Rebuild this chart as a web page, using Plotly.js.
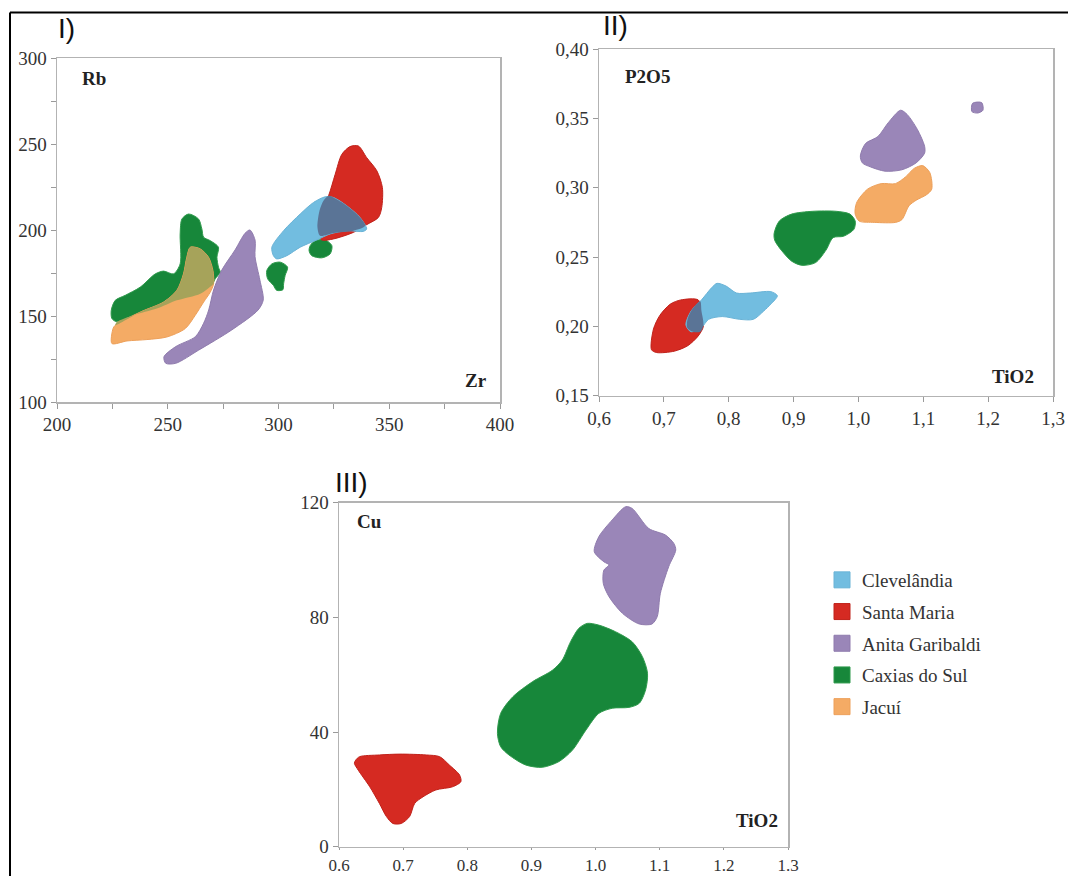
<!DOCTYPE html>
<html><head><meta charset="utf-8">
<script src="https://cdn.plot.ly/plotly-3.0.1.min.js"></script>
<style>html,body{margin:0;padding:0;background:#fff}#chart{width:1068px;height:876px}</style>
</head><body><div id="chart"></div>
<script>
// ================= DATA =================
const groupNames = ['Clevelândia', 'Santa Maria', 'Anita Garibaldi', 'Caxias do Sul', 'Jacuí'];

// ---- Panel I : Zr (x) vs Rb (y) ----
const p1CleX = [297.7, 297.0, 302.3, 309.8, 315.8, 321.1, 324.8, 330.8, 336.8, 339.8, 338.3, 330.8, 323.3, 317.3, 309.8, 303.8, 299.2];
const p1CleY = [185.1, 190.0, 199.6, 209.3, 216.0, 219.3, 218.9, 214.1, 207.3, 200.6, 199.2, 199.6, 197.7, 194.2, 190.0, 185.1, 183.2];
const p1SmX = [322.6, 325.6, 328.6, 332.3, 336.1, 339.8, 344.4, 346.9, 346.6, 345.1, 339.8, 333.8, 324.8, 319.5, 318.0, 318.8];
const p1SmY = [219.9, 232.4, 244.0, 248.5, 248.8, 242.1, 234.4, 224.7, 213.1, 207.3, 203.1, 198.6, 194.8, 194.2, 197.7, 209.3];
const p1CleSmX = [322.6, 324.8, 330.8, 336.8, 339.1, 333.8, 324.8, 318.8, 317.6, 318.5, 320.3];
const p1CleSmY = [219.9, 218.9, 214.1, 207.3, 202.5, 199.6, 198.3, 196.7, 201.5, 211.2, 217.0];
const p1AgX = [287.1, 289.4, 289.4, 291.6, 293.1, 290.8, 278.9, 264.0, 253.6, 249.1, 248.3, 253.6, 262.5, 266.2, 268.5, 270.7, 274.4, 280.4, 284.9];
const p1AgY = [200.0, 194.2, 184.5, 170.9, 159.3, 153.5, 141.9, 130.2, 122.5, 122.5, 126.3, 132.2, 138.0, 145.8, 153.5, 165.1, 176.7, 188.4, 198.1];
const p1CsX = [224.8, 224.5, 226.3, 230.8, 237.6, 244.4, 248.1, 252.6, 255.6, 255.6, 256.4, 259.4, 263.9, 265.4, 266.2, 269.2, 272.9, 272.2, 272.9, 273.7, 271.4, 269.9, 264.7, 254.1, 245.1, 234.6, 227.1];
const p1CsY = [148.5, 153.3, 159.1, 162.0, 166.8, 174.5, 176.1, 174.5, 180.3, 197.7, 206.4, 209.3, 206.4, 200.6, 195.8, 193.8, 190.0, 184.2, 178.4, 175.5, 171.6, 167.8, 163.0, 159.1, 154.3, 150.5, 146.6];
const p1CsB1X = [314.3, 316.5, 321.1, 324.1, 323.3, 319.5, 315.0, 313.8];
const p1CsB1Y = [190.9, 193.8, 194.2, 190.9, 186.1, 183.8, 185.1, 188.0];
const p1CsB2X = [294.7, 297.0, 300.8, 304.1, 303.0, 302.3, 302.0, 299.2, 297.7, 295.1];
const p1CsB2Y = [176.4, 180.3, 181.3, 178.4, 173.6, 168.7, 165.3, 164.9, 167.8, 171.6];
const p1JaX = [226.3, 237.6, 248.1, 254.1, 257.1, 258.6, 260.2, 264.7, 268.4, 270.4, 270.7, 269.2, 266.2, 262.4, 257.9, 249.6, 240.6, 231.6, 224.8, 225.3];
const p1JaY = [144.6, 152.3, 158.1, 164.9, 174.5, 184.2, 190.0, 189.0, 184.2, 176.4, 168.7, 163.9, 158.1, 150.4, 142.7, 137.8, 136.3, 135.5, 134.0, 142.7];
const p1CsJaX = [226.3, 237.6, 248.1, 254.1, 257.1, 258.6, 260.2, 264.7, 268.4, 270.4, 270.7, 269.9, 264.7, 254.1, 245.1, 234.6, 227.1];
const p1CsJaY = [144.6, 152.3, 158.1, 164.9, 174.5, 184.2, 190.0, 189.0, 184.2, 176.4, 168.7, 167.8, 163.0, 159.1, 154.3, 150.5, 146.6];

// ---- Panel II : TiO2 (x) vs P2O5 (y) ----
const p2SmX = [0.681, 0.684, 0.694, 0.710, 0.726, 0.753, 0.758, 0.761, 0.753, 0.737, 0.716, 0.689];
const p2SmY = [0.183, 0.198, 0.208, 0.216, 0.219, 0.219, 0.211, 0.200, 0.193, 0.186, 0.182, 0.181];
const p2CleX = [0.734, 0.742, 0.758, 0.774, 0.782, 0.796, 0.812, 0.833, 0.865, 0.875, 0.865, 0.854, 0.838, 0.817, 0.790, 0.769, 0.758, 0.742];
const p2CleY = [0.201, 0.211, 0.219, 0.228, 0.231, 0.229, 0.224, 0.224, 0.225, 0.222, 0.216, 0.211, 0.205, 0.205, 0.207, 0.205, 0.199, 0.196];
const p2CleSmX = [0.736, 0.742, 0.756, 0.758, 0.761, 0.756, 0.745, 0.736];
const p2CleSmY = [0.204, 0.211, 0.218, 0.211, 0.201, 0.196, 0.196, 0.199];
const p2CsX = [0.870, 0.878, 0.897, 0.929, 0.966, 0.987, 0.995, 0.993, 0.977, 0.961, 0.950, 0.934, 0.913, 0.897, 0.881, 0.871];
const p2CsY = [0.267, 0.276, 0.281, 0.283, 0.283, 0.281, 0.276, 0.270, 0.265, 0.264, 0.255, 0.246, 0.244, 0.247, 0.255, 0.262];
const p2JaX = [0.995, 0.998, 1.014, 1.035, 1.057, 1.073, 1.086, 1.099, 1.110, 1.113, 1.105, 1.089, 1.078, 1.067, 1.057, 1.025, 1.001, 0.995];
const p2JaY = [0.285, 0.290, 0.299, 0.303, 0.303, 0.308, 0.314, 0.316, 0.311, 0.299, 0.295, 0.291, 0.287, 0.277, 0.275, 0.275, 0.276, 0.281];
const p2AgX = [1.003, 1.011, 1.030, 1.046, 1.065, 1.075, 1.091, 1.102, 1.102, 1.089, 1.067, 1.041, 1.019, 1.006];
const p2AgY = [0.323, 0.332, 0.337, 0.347, 0.356, 0.353, 0.342, 0.330, 0.325, 0.318, 0.313, 0.312, 0.315, 0.318];
const p2AgB1X = [1.176, 1.190, 1.192, 1.184, 1.175];
const p2AgB1Y = [0.361, 0.3615, 0.356, 0.354, 0.355];

// ---- Panel III : TiO2 (x) vs Cu (y) ----
const p3SmX = [0.626, 0.632, 0.663, 0.695, 0.736, 0.757, 0.772, 0.788, 0.790, 0.777, 0.751, 0.731, 0.718, 0.710, 0.697, 0.684, 0.674, 0.663, 0.648, 0.630, 0.624];
const p3SmY = [30.2, 31.4, 32.0, 32.3, 32.0, 31.4, 28.5, 25.0, 22.7, 20.9, 19.8, 17.4, 15.1, 10.5, 8.1, 8.1, 10.5, 15.1, 20.9, 26.7, 29.1];
const p3CsX = [0.847, 0.852, 0.871, 0.902, 0.933, 0.948, 0.961, 0.974, 0.987, 1.005, 1.031, 1.057, 1.073, 1.081, 1.078, 1.068, 1.052, 1.026, 1.005, 0.985, 0.964, 0.943, 0.917, 0.891, 0.865, 0.852];
const p3CsY = [39.5, 46.5, 52.3, 57.6, 61.6, 65.1, 71.5, 76.2, 77.9, 77.3, 75.0, 71.5, 66.3, 60.5, 54.7, 50.0, 48.6, 48.3, 46.5, 40.7, 33.7, 29.7, 27.7, 28.5, 32.0, 34.9];
const p3AgX = [0.998, 1.005, 1.026, 1.047, 1.057, 1.083, 1.109, 1.122, 1.125, 1.114, 1.101, 1.096, 1.088, 1.068, 1.042, 1.021, 1.012, 1.013, 1.021, 1.013];
const p3AgY = [102.9, 108.1, 114.0, 118.6, 118.0, 111.0, 108.7, 105.8, 103.5, 97.7, 88.4, 80.2, 77.7, 77.7, 81.4, 87.2, 91.9, 96.5, 98.3, 99.4];

// ---- tick labels ----
const p2XTickVals = [0.6, 0.7, 0.8, 0.9, 1.0, 1.1, 1.2, 1.3];
const p2XTickText = ['0,6', '0,7', '0,8', '0,9', '1,0', '1,1', '1,2', '1,3'];
const p2YTickVals = [0.15, 0.20, 0.25, 0.30, 0.35, 0.40];
const p2YTickText = ['0,15', '0,20', '0,25', '0,30', '0,35', '0,40'];
const p3XTickVals = [0.6, 0.7, 0.8, 0.9, 1.0, 1.1, 1.2, 1.3];
const p3XTickText = ['0.6', '0.7', '0.8', '0.9', '1.0', '1.1', '1.2', '1.3'];

// ================= STYLE =================
const W = 1068, H = 876;
const px = v => v / W;
const py = v => 1 - v / H;
const COL = {
  'Clevelândia': '#72bde0',
  'Santa Maria': '#d52a22',
  'Anita Garibaldi': '#9a86b8',
  'Caxias do Sul': '#17873a',
  'Jacuí': '#f4ab65',
  'cleSm': '#5a7496',
  'csJa': '#a6a35a'
};
const EDGE = {
  'Clevelândia': '#6ab3d6',
  'Santa Maria': '#c0221b',
  'Anita Garibaldi': '#8f7bad',
  'Caxias do Sul': '#2f9a4c',
  'Jacuí': '#eda05a',
  'cleSm': '#5a7496',
  'csJa': '#a6a35a'
};

function poly(x, y, key, ax, edgeW) {
  return {
    x: x.concat([x[0]]), y: y.concat([y[0]]),
    xaxis: ax[0], yaxis: ax[1],
    type: 'scatter', mode: 'lines', fill: 'toself',
    fillcolor: COL[key],
    line: {color: EDGE[key], width: edgeW === undefined ? 1 : edgeW, shape: 'spline', smoothing: 0.8},
    hoverinfo: 'skip', showlegend: false
  };
}

const A1 = ['x', 'y'], A2 = ['x2', 'y2'], A3 = ['x3', 'y3'];
const traces = [
  // Panel I
  poly(p1CsX, p1CsY, 'Caxias do Sul', A1),
  poly(p1CsB1X, p1CsB1Y, 'Caxias do Sul', A1),
  poly(p1CsB2X, p1CsB2Y, 'Caxias do Sul', A1),
  poly(p1JaX, p1JaY, 'Jacuí', A1),
  poly(p1CsJaX, p1CsJaY, 'csJa', A1, 0),
  poly(p1AgX, p1AgY, 'Anita Garibaldi', A1),
  poly(p1SmX, p1SmY, 'Santa Maria', A1),
  poly(p1CleX, p1CleY, 'Clevelândia', A1),
  poly(p1CleSmX, p1CleSmY, 'cleSm', A1, 0),
  // Panel II
  poly(p2SmX, p2SmY, 'Santa Maria', A2),
  poly(p2CleX, p2CleY, 'Clevelândia', A2),
  poly(p2CleSmX, p2CleSmY, 'cleSm', A2, 0),
  poly(p2CsX, p2CsY, 'Caxias do Sul', A2),
  poly(p2JaX, p2JaY, 'Jacuí', A2),
  poly(p2AgX, p2AgY, 'Anita Garibaldi', A2),
  poly(p2AgB1X, p2AgB1Y, 'Anita Garibaldi', A2),
  // Panel III
  poly(p3SmX, p3SmY, 'Santa Maria', A3),
  poly(p3CsX, p3CsY, 'Caxias do Sul', A3),
  poly(p3AgX, p3AgY, 'Anita Garibaldi', A3)
];
// legend entries
groupNames.forEach((name, i) => {
  traces.push({
    x: [null], y: [null], xaxis: 'x3', yaxis: 'y3',
    type: 'scatter', mode: 'markers', name: name,
    legendgroup: 'g' + i,
    marker: {symbol: 'square', size: 16, color: COL[name], line: {color: EDGE[name], width: 1}},
    showlegend: true, hoverinfo: 'skip'
  });
});

const SERIF = '"Liberation Serif", "Times New Roman", serif';
const tickFont = {family: SERIF, size: 19, color: '#333'};
function axis(domain, range, extra) {
  return Object.assign({
    domain: domain, range: range, showgrid: false, zeroline: false,
    showline: true, mirror: true, linecolor: '#b3b3b3', linewidth: 1.5,
    ticks: 'outside', ticklen: 5, tickcolor: '#9a9a9a', tickwidth: 1,
    tickfont: tickFont, fixedrange: true
  }, extra || {});
}

const labelFont = {family: SERIF, size: 19, color: '#222'};
const romanFont = {family: '"Liberation Sans", Arial, sans-serif', size: 28, color: '#111'};
function ann(text, x, y, font) {
  return {text: text, xref: 'paper', yref: 'paper', x: px(x), y: py(y),
          xanchor: 'center', yanchor: 'middle', showarrow: false, font: font};
}

const layout = {
  width: W, height: H,
  margin: {l: 0, r: 0, t: 0, b: 0},
  paper_bgcolor: '#fff', plot_bgcolor: '#fff',
  showlegend: true,
  legend: {
    x: px(822), y: py(561), xanchor: 'left', yanchor: 'top',
    font: {family: SERIF, size: 19, color: '#333'},
    bgcolor: 'rgba(0,0,0,0)', tracegroupgap: 4, itemclick: false, itemdoubleclick: false
  },
  xaxis: axis([px(57), px(500)], [200, 400], {anchor: 'y', dtick: 50, tick0: 200,
    minor: {dtick: 25, ticks: 'outside', ticklen: 5, tickcolor: '#9a9a9a'}}),
  yaxis: axis([py(402), py(58)], [100, 300], {anchor: 'x', dtick: 50, tick0: 100,
    minor: {dtick: 25, ticks: 'outside', ticklen: 5, tickcolor: '#9a9a9a'}}),
  xaxis2: axis([px(599), px(1053)], [0.6, 1.3], {anchor: 'y2', tickvals: p2XTickVals, ticktext: p2XTickText}),
  yaxis2: axis([py(395.5), py(49.3)], [0.15, 0.40], {anchor: 'x2', tickvals: p2YTickVals, ticktext: p2YTickText}),
  xaxis3: axis([px(339), px(788)], [0.6, 1.3], {anchor: 'y3', tickvals: p3XTickVals, ticktext: p3XTickText,
    ticklen: 2, tickfont: {family: SERIF, size: 17, color: '#333'}}),
  yaxis3: axis([py(846.7), py(502.7)], [0, 120], {anchor: 'x3', dtick: 40, tick0: 0}),
  annotations: [
    ann('I)', 66, 29, romanFont),
    ann('II)', 615, 25, romanFont),
    ann('III)', 352, 482, romanFont),
    ann('<b>Rb</b>', 94, 78, labelFont),
    ann('<b>Zr</b>', 476, 380, labelFont),
    ann('<b>P2O5</b>', 647, 77, labelFont),
    ann('<b>TiO2</b>', 1013, 376, labelFont),
    ann('<b>Cu</b>', 369, 521, labelFont),
    ann('<b>TiO2</b>', 757, 820, labelFont)
  ],
  shapes: [
    {type: 'line', xref: 'paper', yref: 'paper', x0: px(10), x1: px(1068), y0: py(12.5), y1: py(12.5), line: {color: '#000', width: 2}},
    {type: 'line', xref: 'paper', yref: 'paper', x0: px(10), x1: px(10), y0: py(12.5), y1: py(876), line: {color: '#000', width: 2}}
  ]
};

Plotly.newPlot('chart', traces, layout, {displayModeBar: false, staticPlot: true});
</script>
</body></html>
